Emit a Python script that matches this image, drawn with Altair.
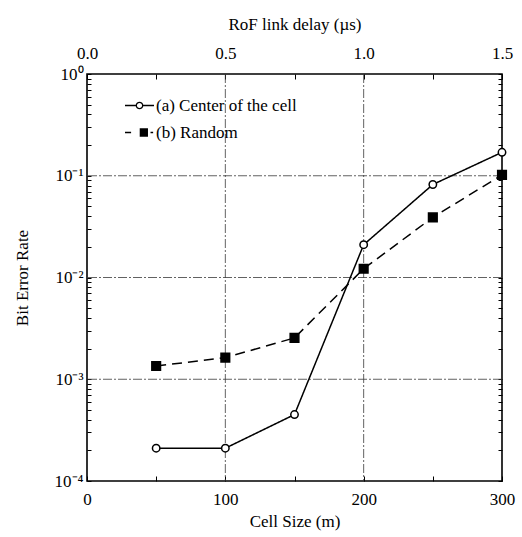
import altair as alt
import pandas as pd

# --- data -----------------------------------------------------------------
cell_size = [50, 100, 150, 200, 250, 300]                 # m
ber_center = [2.1e-4, 2.1e-4, 4.5e-4, 2.1e-2, 8.2e-2, 1.7e-1]
ber_random = [1.35e-3, 1.63e-3, 2.55e-3, 1.22e-2, 3.9e-2, 1.02e-1]
series_names = ["(a) Center of the cell", "(b) Random"]

# axis ticks / labels
cell_ticks = [0, 50, 100, 150, 200, 250, 300]
delay_ticks = [0.0, 0.25, 0.5, 0.75, 1.0, 1.25, 1.5]
decades = [1e-4, 1e-3, 1e-2, 1e-1, 1.0]
decade_labels = ["10⁻⁴", "10⁻³", "10⁻²", "10⁻¹", "10⁰"]
ber_ticks = decades + [m * d for d in decades[:-1] for m in range(2, 10)]

# dash-dot grid positions
grid_delay = [0.5, 1.0]          # µs  (= 100 m and 200 m)
grid_ber = [1e-3, 1e-2, 1e-1]

df = pd.DataFrame({
    "cell": cell_size * 2,
    "ber": ber_center + ber_random,
    "series": [series_names[0]] * len(cell_size) + [series_names[1]] * len(cell_size),
})

W, H = 415, 407
FONT = "Liberation Serif"
FS = 17

cell_scale = alt.Scale(domain=[0, 300], nice=False, zero=False)
ber_scale = alt.Scale(type="log", domain=[1e-4, 1], nice=False)
delay_scale = alt.Scale(domain=[0, 1.5], nice=False, zero=False)

common_axis = dict(
    labelFont=FONT, labelFontSize=FS, labelColor="black",
    titleFont=FONT, titleFontSize=FS, titleFontWeight="normal", titleColor="black",
    tickColor="black", tickWidth=1, grid=False, domain=False, labelFlush=False,
    labelOverlap=False,
)

ylabel_expr = "".join(
    f"abs(datum.value - {d}) < {d * 1e-6} ? '{lab}' : " for d, lab in zip(decades, decade_labels)
) + "''"

grid_style = dict(color="#3a3a3a", strokeWidth=0.8, strokeDash=[9, 2, 2, 2])

# vertical grid, carrying the top (delay) axis
vgrid = alt.Chart(pd.DataFrame({"delay": grid_delay})).mark_rule(**grid_style).encode(
    x=alt.X("delay:Q", scale=delay_scale,
            axis=alt.Axis(orient="top", title="RoF link delay (µs)", values=delay_ticks,
                          labelExpr="datum.value * 2 == round(datum.value * 2) ? format(datum.value, '.1f') : ''",
                          tickSize={"expr": "-5"}, labelPadding=17, titlePadding=11,
                          **common_axis))
)

# horizontal grid, carrying the right-hand tick axis
hgrid = alt.Chart(pd.DataFrame({"ber": grid_ber})).mark_rule(**grid_style).encode(
    y=alt.Y("ber:Q", scale=ber_scale,
            axis=alt.Axis(orient="right", title=None, values=ber_ticks, labels=False,
                          tickSize={"expr": "-4"}, **common_axis))
)

is_a = f"datum.series === '{series_names[0]}'"

lines = alt.Chart(df).mark_line(color="black", strokeWidth=1.5).encode(
    x=alt.X("cell:Q", scale=cell_scale,
            axis=alt.Axis(orient="bottom", title="Cell Size (m)", values=cell_ticks,
                          labelExpr="datum.value % 100 == 0 ? datum.label : ''",
                          tickSize={"expr": "-5"}, labelPadding=15, titlePadding=6,
                          **common_axis)),
    y=alt.Y("ber:Q", scale=ber_scale,
            axis=alt.Axis(orient="left", title="Bit Error Rate", values=ber_ticks,
                          labelExpr=ylabel_expr, tickSize={"expr": "-4"},
                          labelPadding=8, titlePadding=23, **common_axis)),
    strokeDash=alt.condition(is_a, alt.value([1, 0]), alt.value([10, 6])),
    detail="series:N",
)

points = alt.Chart(df).mark_point(stroke="black", strokeWidth=1.5, opacity=1).encode(
    x=alt.X("cell:Q", scale=cell_scale, axis=None),
    y=alt.Y("ber:Q", scale=ber_scale, axis=None),
    shape=alt.condition(is_a, alt.value("circle"), alt.value("square")),
    fill=alt.condition(is_a, alt.value("white"), alt.value("black")),
    size=alt.condition(is_a, alt.value(55), alt.value(75)),
)

# legend glyphs: line + marker drawn as one symbol path per series
glyph_a = ("M-1,0L-0.22,0M0.22,0L1,0"
           "M0.22,0A0.22,0.22,0,1,1,-0.22,0A0.22,0.22,0,1,1,0.22,0Z")
glyph_b = ("M-1,0L-0.58,0"
           "M0.06,-0.24L0.54,-0.24L0.54,0.24L0.06,0.24Z"
           "M0.76,0L0.94,0")

legend_props = dict(title=None, orient="none", legendX=37, legendY=16,
                    symbolSize=841, symbolStrokeWidth=1.3, symbolStrokeColor="black",
                    symbolOpacity=1, labelFont=FONT, labelFontSize=FS, labelColor="black",
                    labelLimit=400, labelOffset=1, rowPadding=3, padding=0)

# invisible carrier marks; the legend built from them is the only visible part
legend_layer = alt.Chart(df).mark_point(strokeWidth=1.3, opacity=0).encode(
    x=alt.X("cell:Q", scale=cell_scale, axis=None),
    y=alt.Y("ber:Q", scale=ber_scale, axis=None),
    shape=alt.Shape("series:N", scale=alt.Scale(domain=series_names, range=[glyph_a, glyph_b]),
                    legend=alt.Legend(**legend_props)),
    fill=alt.Fill("series:N", scale=alt.Scale(domain=series_names, range=["white", "black"]),
                  legend=alt.Legend(**legend_props)),
    stroke=alt.Stroke("series:N", scale=alt.Scale(domain=series_names, range=["black", "black"]),
                      legend=alt.Legend(**legend_props)),
)

chart = alt.layer(vgrid, hgrid, lines, points, legend_layer).resolve_scale(
    x="independent", y="independent"
).properties(
    width=W, height=H,
    autosize=alt.AutoSizeParams(type="none"),
    padding={"left": 87, "top": 74, "right": 522 - 87 - W, "bottom": 537 - 74 - H},
    background="white",
).configure_view(stroke="black", strokeWidth=1.6)

chart.save("out.html", embed_options={"renderer": "svg", "actions": False})
